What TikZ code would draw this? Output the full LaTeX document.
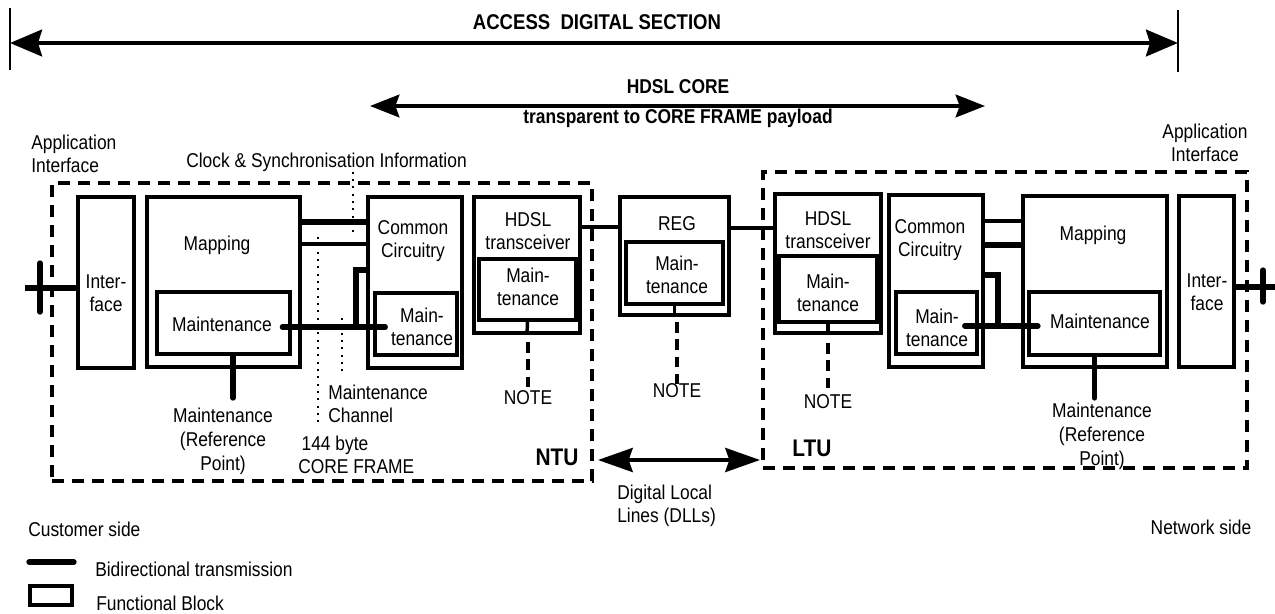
\documentclass[tikz,border=0pt]{standalone}
\usepackage{fontspec}
\setmainfont{Liberation Sans}[FakeStretch=0.87]
\usetikzlibrary{arrows.meta,fit}

\tikzset{
  fblock/.style={draw, line width=2.6pt, inner sep=0pt},
  unitbox/.style={draw, line width=2.3pt, dash pattern=on 9pt off 6pt, inner sep=0pt},
  bidir/.style={line width=4pt, line cap=round},
  feed/.style={line width=2pt, dash pattern=on 1.5pt off 4pt},
  notelink/.style={line width=2.6pt, dash pattern=on 8pt off 5pt},
  lbl/.style={font=\fontsize{15}{17}\selectfont, inner sep=0pt, align=center},
  lblb/.style={lbl, font=\fontsize{15}{17}\selectfont\bfseries},
  spanarrow/.style={line width=3pt, {Stealth[length=24pt,width=20pt,inset=3pt]}-{Stealth[length=24pt,width=20pt,inset=3pt]}}
}

\begin{document}
\begin{tikzpicture}[x=0.75pt,y=0.75pt,yscale=-1,xscale=1]
\useasboundingbox (0,0) rectangle (1275,614);

%Span arrows
\coordinate (adsL) at (10,43);
\coordinate (adsR) at (1178,43);
\draw[line width=1.8pt] (10,8) -- (10,70);
\draw[line width=1.8pt] (1178,10) -- (1178,72);
\draw[spanarrow] (adsL) -- (adsR);
\node[lblb, font=\fontsize{16}{18}\selectfont\bfseries] (ads) at (597,22) {ACCESS~~DIGITAL SECTION};

\coordinate (coreL) at (370,106);
\coordinate (coreR) at (985,106);
\draw[spanarrow, line width=2.8pt, {Stealth[length=22pt,width=17pt,inset=3pt]}-{Stealth[length=22pt,width=17pt,inset=3pt]}] (coreL) -- (coreR);
\node[lblb] (core) at (678,87) {HDSL CORE};
\node[lblb] (transp) at (678,118) {transparent to CORE FRAME payload};

%Unit boxes
\node[unitbox, fit={(52,183) (592,481)}] (ntu) {};
\node[unitbox, fit={(763,172) (1247,468)}] (ltu) {};

%Shape: NTU blocks
\node[fblock, fit={(78,197) (134,368)}] (ifL) {};
\node[fblock, fit={(147,197) (300,367)}] (mapL) {};
\node[fblock, fit={(157,292) (290,354)}] (mntL) {};
\node[fblock, fit={(368,197) (462,368)}] (ccL) {};
\node[fblock, fit={(375,293) (457,355)}] (cmL) {};
\node[fblock, fit={(474,197) (580,333)}] (hdL) {};
\node[fblock, fit={(479,259) (576,320)}] (hmL) {};

%Shape: REG
\node[fblock, fit={(620,197) (729,315)}] (reg) {};
\node[fblock, fit={(626,242) (723,304)}] (rm) {};

%Shape: LTU blocks
\node[fblock, fit={(775,194) (881,333)}] (hdR) {};
\node[fblock, fit={(779,256) (877,322)}] (hmR) {};
\node[fblock, fit={(889,195) (983,367)}] (ccR) {};
\node[fblock, fit={(896,292) (977,354)}] (cmR) {};
\node[fblock, fit={(1023,196) (1167,367)}] (mapR) {};
\node[fblock, fit={(1029,292) (1160,355)}] (mntR) {};
\node[fblock, fit={(1179,196) (1234,367)}] (ifR) {};

% Text Node
\node[lbl, align=left, anchor=west] (appL) at (31,154) {Application\\Interface};
\node[lbl] (appR) at (1205,143) {Application\\Interface};
\node[lbl, anchor=west] (clk) at (186,162) {Clock \& Synchronisation Information};
\node[lbl] at (106,293) {Inter-\\face};
\node[lbl] at (1207,292) {Inter-\\face};
\node[lbl] at (217,245) {Mapping};
\node[lbl] at (1093,235) {Mapping};
\node[lbl] at (222,324) {Maintenance};
\node[lbl] at (1100,321) {Maintenance};
\node[lbl] at (413,241) {Common\\Circuitry};
\node[lbl] at (930,240) {Common\\Circuitry};
\node[lbl] at (422,327) {Main-\\tenance};
\node[lbl] at (937,328) {Main-\\tenance};
\node[lbl] at (528,231) {HDSL\\transceiver};
\node[lbl] at (828,230) {HDSL\\transceiver};
\node[lbl] at (528,287) {Main-\\tenance};
\node[lbl] at (828,293) {Main-\\tenance};
\node[lbl] at (677,224) {REG};
\node[lbl] at (677,275) {Main-\\tenance};
\node[lbl] (noteL) at (528,398) {NOTE};
\node[lbl] (noteM) at (677,391) {NOTE};
\node[lbl] (noteR) at (828,402) {NOTE};
\node[lbl, font=\fontsize{15}{18}\selectfont] (refL) at (223,441) {Maintenance\\(Reference\\Point)};
\node[lbl, font=\fontsize{15}{18}\selectfont] (refR) at (1102,436) {Maintenance\\(Reference\\Point)};
\node[lbl, align=left, anchor=west] (mch) at (328,404) {Maintenance\\Channel};
\node[lbl, align=left, anchor=west] (cf) at (298,455) {\,144 byte\\CORE FRAME};
\node[lbl, font=\fontsize{18}{20}\selectfont\bfseries] at (557,457) {NTU};
\node[lbl, font=\fontsize{18}{20}\selectfont\bfseries] at (812,448) {LTU};
\node[lbl, align=left, anchor=west] (dll) at (617,506) {Digital Local\\Lines (DLLs)};
\node[lbl, anchor=west] at (28,529) {Customer side};
\node[lbl] at (1201,527) {Network side};

%Crosses at the application interfaces
\coordinate (xL) at (25,288);
\coordinate (xR) at (1275,287);
\draw[bidir, line cap=butt] (xL) -- (ifL.west |- xL);
\draw[bidir] (40,263) -- (40,312);
\draw[bidir, line cap=butt] (ifR.east |- xR) -- (xR);
\draw[bidir] (1263,270) -- (1263,302);

%NTU connections
\draw[bidir] (mapL.east |- 0,222) -- (ccL.west |- 0,222);
\draw[bidir, line width=3.4pt] (mapL.east |- 0,244) -- (ccL.west |- 0,244);
\coordinate (jL) at (356,327);
\draw[bidir] (ccL.west |- 0,270) -| (jL);
\draw[bidir, shorten <=-7pt, shorten >=-9pt] (mntL.east |- jL) -- (cmL.west |- jL);
\draw[bidir] (mntL.south -| 233,0) -- (233,398);

%Line links
\draw[bidir, line width=3.4pt] (hdL.east |- 0,227) -- (reg.west |- 0,227);
\draw[bidir, line width=3.4pt] (reg.east |- 0,228) -- (hdR.west |- 0,228);

%LTU connections
\draw[bidir, line width=3.4pt] (ccR.east |- 0,221) -- (mapR.west |- 0,221);
\draw[bidir] (ccR.east |- 0,245) -- (mapR.west |- 0,245);
\coordinate (jR) at (998,326);
\draw[bidir] (ccR.east |- 0,275) -| (jR);
\draw[bidir, shorten <=-10.5pt, shorten >=-8pt] (cmR.east |- jR) -- (mntR.west |- jR);
\draw[bidir] (mntR.south) -- (mntR.south |- 0,398);

%Maintenance stems and NOTE links
\draw[line width=2.6pt] (hmL.south) -- (hdL.south);
\draw[line width=2.6pt] (rm.south) -- (reg.south);
\draw[line width=2.6pt] (hmR.south) -- (hdR.south);
\draw[notelink] (528,342) -- (noteL.north);
\draw[notelink] (677,322) -- (noteM.north);
\draw[notelink] (828,343) -- (noteR.north);

%Dotted channels
\draw[feed] (clk.south -| 353,0) -- (353,232);
\draw[feed] (318,237) -- (318,427);
\draw[feed] (342,318) -- (342,372);

%DLL span
\coordinate (dllL) at (598,460);
\coordinate (dllR) at (760,460);
\draw[spanarrow, line width=2.8pt, {Stealth[length=26pt,width=18pt,inset=3pt]}-{Stealth[length=26pt,width=18pt,inset=3pt]}] (dllL) -- (dllR);

%Legend
\draw[bidir] (29,562) -- (74,562);
\node[lbl, anchor=west] at (95,569) {Bidirectional transmission};
\node[fblock, fit={(30,586) (72,605)}] (lgbox) {};
\node[lbl, anchor=west] at (96,603) {Functional Block};

\end{tikzpicture}
\end{document}
